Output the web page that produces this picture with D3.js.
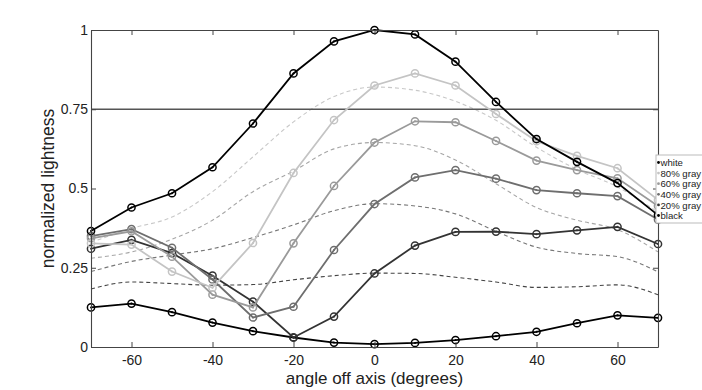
<!DOCTYPE html>
<html><head><meta charset="utf-8">
<script src="https://cdn.jsdelivr.net/npm/d3@7"></script>
<style>
html,body{margin:0;padding:0;background:#fff;}
svg{display:block;font-family:"Liberation Sans",Arial,Helvetica,sans-serif;}
</style></head>
<body><svg id="c" width="702" height="390"></svg>
<script>
const angles = [-70,-60,-50,-40,-30,-20,-10,0,10,20,30,40,50,60,70];
const xTicks = [-60,-40,-20,0,20,40,60];
const yTicks = [0,0.25,0.5,0.75,1];
const yTickLabels = ["0","0.25","0.5","0.75","1"];
const seriesNames = ["white","80% gray","60% gray","40% gray","20% gray","black"];
const white   = [0.366,0.440,0.485,0.567,0.705,0.863,0.964,1.000,0.986,0.900,0.773,0.656,0.584,0.517,0.416];
const gray80  = [0.327,0.323,0.238,0.187,0.328,0.549,0.716,0.825,0.863,0.825,0.735,0.649,0.603,0.564,0.464];
const gray60  = [0.343,0.365,0.285,0.165,0.125,0.327,0.508,0.645,0.712,0.709,0.650,0.588,0.558,0.532,0.445];
const gray40  = [0.350,0.372,0.313,0.213,0.093,0.127,0.306,0.451,0.535,0.558,0.531,0.495,0.485,0.476,0.402];
const gray20  = [0.310,0.338,0.296,0.225,0.143,0.030,0.096,0.232,0.320,0.363,0.364,0.356,0.368,0.379,0.325];
const black   = [0.125,0.137,0.110,0.077,0.050,0.030,0.014,0.009,0.013,0.022,0.034,0.048,0.075,0.100,0.092];
const ref80 = [0.330,0.374,0.410,0.490,0.600,0.710,0.790,0.820,0.810,0.775,0.715,0.630,0.560,0.505,0.425];
const ref60 = [0.280,0.300,0.340,0.400,0.490,0.555,0.625,0.645,0.635,0.590,0.515,0.440,0.400,0.370,0.300];
const ref40 = [0.238,0.270,0.290,0.310,0.345,0.385,0.430,0.452,0.445,0.420,0.365,0.315,0.295,0.285,0.237];
const ref20 = [0.183,0.205,0.200,0.195,0.197,0.212,0.225,0.233,0.232,0.220,0.205,0.188,0.190,0.196,0.165];
const refLevel = 0.75;

const series = [
  {name:seriesNames[0], v:white,  c:"#000000", w:1.8},
  {name:seriesNames[1], v:gray80, c:"#c4c4c4", w:1.8},
  {name:seriesNames[2], v:gray60, c:"#9a9a9a", w:1.8},
  {name:seriesNames[3], v:gray40, c:"#6e6e6e", w:1.8},
  {name:seriesNames[4], v:gray20, c:"#333333", w:1.8},
  {name:seriesNames[5], v:black,  c:"#000000", w:1.8}
];
const refs = [
  {v:ref80, c:"#c8c8c8"},
  {v:ref60, c:"#a6a6a6"},
  {v:ref40, c:"#777777"},
  {v:ref20, c:"#444444"}
];

const svg = d3.select("#c");
const x = d3.scaleLinear().domain([-70,70]).range([91,658]);
const y = d3.scaleLinear().domain([0,1]).range([347,30]);
const line = d3.line().x((d,i)=>x(angles[i])).y(d=>y(d));
const smooth = d3.line().x((d,i)=>x(angles[i])).y(d=>y(d)).curve(d3.curveMonotoneX);

// dashed reference curves
svg.append("g").selectAll("path").data(refs).join("path")
  .attr("d", d=>smooth(d.v)).attr("fill","none")
  .attr("stroke", d=>d.c).attr("stroke-width",1.1)
  .attr("stroke-dasharray","4,3");

// horizontal reference line
svg.append("line").attr("x1",x(-70)).attr("x2",x(70))
  .attr("y1",y(refLevel)).attr("y2",y(refLevel))
  .attr("stroke","#555").attr("stroke-width",1.5);

// series lines (draw back to front)
const order = [5,4,3,2,1,0];
const gS = svg.append("g");
order.forEach(k=>{
  const s = series[k];
  gS.append("path").attr("d", line(s.v)).attr("fill","none")
    .attr("stroke", s.c).attr("stroke-width", s.w);
  gS.append("g").selectAll("circle").data(s.v).join("circle")
    .attr("cx",(d,i)=>x(angles[i])).attr("cy",d=>y(d)).attr("r",3.6)
    .attr("fill","none").attr("stroke",s.c).attr("stroke-width",1.5);
  gS.append("g").selectAll("circle").data(s.v).join("circle")
    .attr("cx",(d,i)=>x(angles[i])).attr("cy",d=>y(d)).attr("r",1)
    .attr("fill",s.c);
});

// axes
const axisColor = "#444";
const fmtY = d=>yTickLabels[yTicks.indexOf(d)];
const fmtX = d=>String(d);
const gx = svg.append("g").attr("transform",`translate(0,${y(0)})`)
  .call(d3.axisBottom(x).tickValues(xTicks).tickSizeInner(-5).tickSizeOuter(0).tickPadding(8).tickFormat(fmtX));
const gy = svg.append("g").attr("transform",`translate(${x(-70)},0)`)
  .call(d3.axisLeft(y).tickValues(yTicks).tickSizeInner(-5).tickSizeOuter(0).tickPadding(3).tickFormat(fmtY));
const gt = svg.append("g").attr("transform",`translate(0,${y(1)})`)
  .call(d3.axisTop(x).tickValues(xTicks).tickSizeInner(-5).tickSizeOuter(0).tickFormat(""));
const gr = svg.append("g").attr("transform",`translate(${x(70)},0)`)
  .call(d3.axisRight(y).tickValues(yTicks).tickSizeInner(-5).tickSizeOuter(0).tickFormat(""));
[gx,gy,gt,gr].forEach(g=>{
  g.selectAll("path.domain").attr("stroke",axisColor).attr("stroke-width",1.1);
  g.selectAll(".tick line").attr("stroke",axisColor).attr("stroke-width",1);
  g.selectAll("text").attr("fill","#222").style("font-size","14px")
   .style("font-family","'Liberation Sans',Arial,sans-serif");
});

// axis titles
svg.append("text").attr("x",x(0)).attr("y",384).attr("text-anchor","middle")
  .attr("fill","#222").style("font-size","17px").text("angle off axis (degrees)");
svg.append("text").attr("transform",`translate(54,${y(0.5)}) rotate(-90)`)
  .attr("text-anchor","middle").attr("fill","#222").style("font-size","17.5px")
  .text("normalized lightness");

// legend
const lg = svg.append("g").attr("transform","translate(656,155)");
lg.append("rect").attr("x",0).attr("y",0).attr("width",60).attr("height",68)
  .attr("fill","#fff").attr("stroke","#bbb").attr("stroke-width",1);
series.forEach((s,i)=>{
  const yy = 7.5 + i*10.6;
  lg.append("circle").attr("cx",2.5).attr("cy",yy).attr("r",1.4).attr("fill",s.c);
  lg.append("text").attr("x",4.5).attr("y",yy+3.6).attr("fill","#222")
    .style("font-size","9.6px").text(s.name);
});
</script></body></html>
